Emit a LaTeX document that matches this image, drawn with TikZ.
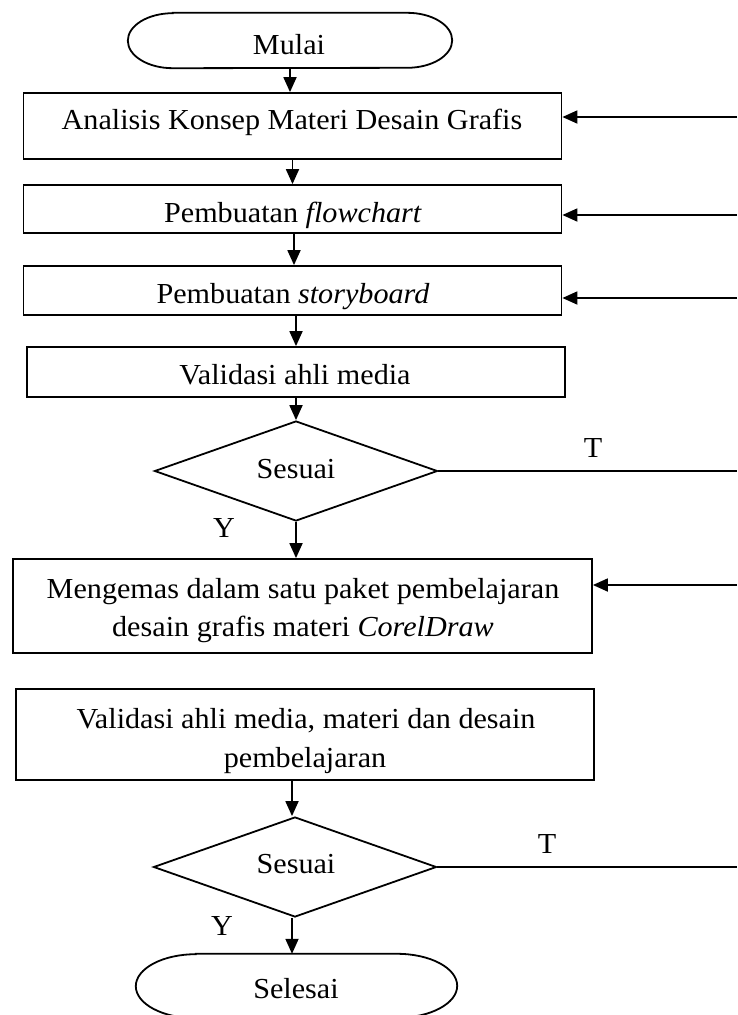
\documentclass[tikz,border=0pt]{standalone}
\usepackage{fontspec}
\setmainfont{Liberation Serif}
\usetikzlibrary{shapes.geometric,arrows.meta}
\newcommand\sxw[1]{\scalebox{1.04}[1]{#1}}
\begin{document}
\begin{tikzpicture}[x={(1pt,0pt)}, y={(0pt,-1pt)},
  flowbox/.style={draw, line width=1.8pt, inner sep=0pt},
  term/.style={inner sep=0pt},
  decis/.style={diamond, draw, line width=1.8pt, inner sep=0pt, minimum width=283pt, minimum height=100pt},
  txt/.style={inner sep=0pt, anchor=base, font=\fontsize{29}{34}\selectfont},
  arr/.style={line width=1.8pt, -{Triangle[length=15pt,width=13pt]}},
  ln/.style={line width=1.8pt}]
\useasboundingbox (0,0) rectangle (737,1015);

% terminators
\node[term, minimum width=324pt, minimum height=55pt] (mulai) at (290,40.5) {};
\draw[ln] ([xshift=45pt]mulai.north west) -- ([xshift=-45pt]mulai.north east)
  arc[start angle=90, end angle=-90, x radius=45pt, y radius=27.5pt]
  -- ([xshift=45pt]mulai.south west)
  arc[start angle=270, end angle=90, x radius=45pt, y radius=27.5pt] -- cycle;
\node[term, minimum width=321pt, minimum height=64pt] (selesai) at (296.5,986) {};
\draw[ln] ([xshift=60pt]selesai.north west) -- ([xshift=-60pt]selesai.north east)
  arc[start angle=90, end angle=-90, x radius=60pt, y radius=32pt]
  -- ([xshift=60pt]selesai.south west)
  arc[start angle=270, end angle=90, x radius=60pt, y radius=32pt] -- cycle;

% boxes
\node[flowbox, minimum width=538pt, minimum height=66pt] (b1) at (292.5,126) {};
\node[flowbox, minimum width=538pt, minimum height=48pt] (b2) at (292.5,209) {};
\node[flowbox, minimum width=538pt, minimum height=49pt] (b3) at (292.5,290.5) {};
\node[flowbox, minimum width=538pt, minimum height=50pt] (b4) at (296,372) {};
\node[decis] (d1) at (296,471) {};
\node[flowbox, minimum width=579pt, minimum height=94pt] (b5) at (302.5,606) {};
\node[flowbox, minimum width=578.5pt, minimum height=91pt] (b6) at (305,734.5) {};
\node[decis] (d2) at (295,867) {};

% texts
\node[txt] (tmulai) at (289,54) {\sxw{Mulai}};
\node[txt] (t1) at (292,129) {\sxw{Analisis Konsep Materi Desain Grafis}};
\node[txt] (t2) at (293,222) {\sxw{Pembuatan \textit{flowchart}}};
\node[txt] (t3) at (293,303) {\sxw{Pembuatan \textit{storyboard}}};
\node[txt] (t4) at (295,384) {\sxw{Validasi ahli media}};
\node[txt] (td1) at (296,478) {\sxw{Sesuai}};
\node[txt] (tT1) at (593,457) {\sxw{T}};
\node[txt] (tY1) at (224,537) {\sxw{Y}};
\node[txt] (t5a) at (303,598) {\sxw{Mengemas dalam satu paket pembelajaran}};
\node[txt] (t5b) at (303,636) {\sxw{desain grafis materi \textit{CorelDraw}}};
\node[txt] (t6a) at (306,728) {\sxw{Validasi ahli media, materi dan desain}};
\node[txt] (t6b) at (305,767) {\sxw{pembelajaran}};
\node[txt] (td2) at (296,873) {\sxw{Sesuai}};
\node[txt] (tT2) at (547,853) {\sxw{T}};
\node[txt] (tY2) at (222,935) {\sxw{Y}};
\node[txt] (tsel) at (296,998) {\sxw{Selesai}};

% right-edge coordinates
\coordinate (r1) at (737,117);
\coordinate (r2) at (737,215);
\coordinate (r3) at (737,298);
\coordinate (r4) at (737,471);
\coordinate (r5) at (737,585);
\coordinate (r6) at (737,867);

% connectors
\draw[arr] (mulai.south) -- (mulai.south |- b1.north);
\draw[arr] (b1.south) -- (b1.south |- b2.north);
\draw[arr] ([xshift=1.5pt]b2.south) -- ([xshift=1.5pt]b2.south |- b3.north);
\draw[arr] (b4.north |- b3.south) -- (b4.north);
\draw[arr] (b4.south) -- (d1.north);
\draw[arr] (d1.south) -- (d1.south |- b5.north);
\draw[arr] ([xshift=-3pt]d2.north |- b6.south) -- ([xshift=-3pt]d2.north);
\draw[arr] ([xshift=-3pt]d2.south) -- ([xshift=-3pt]d2.south |- selesai.north);

\draw[arr] (r1) -- (b1.east |- r1);
\draw[arr] (r2) -- (b2.east |- r2);
\draw[arr] (r3) -- (b3.east |- r3);
\draw[arr] (r5) -- (b5.east |- r5);
\draw[ln] (d1.east) -- (r4);
\draw[ln] (d2.east) -- (r6);
\end{tikzpicture}
\end{document}
